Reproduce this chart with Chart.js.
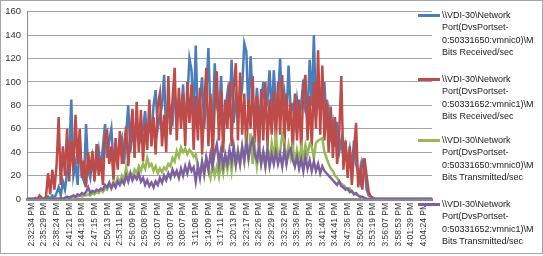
<!DOCTYPE html>
<html><head><meta charset="utf-8">
<script src="https://cdn.jsdelivr.net/npm/chart.js@4"></script>
<style>
html,body{margin:0;padding:0;background:#fff;}
#wrap{position:relative;width:543px;height:256px;overflow:hidden;background:#fff;}
#frame{position:absolute;left:0;top:0;width:541px;height:252px;border:1px solid #a6a6a6;pointer-events:none;}
canvas{position:absolute;left:0;top:0;}
.lg{position:absolute;font-family:"Liberation Sans",Arial,sans-serif;font-size:9px;line-height:12.4px;color:#1a1a1a;white-space:nowrap;}
.sw{position:absolute;height:3px;width:22px;}
</style></head>
<body><div id="wrap"><canvas id="c" width="543" height="256"></canvas><div id="frame"></div><div id="legend"></div></div>
<script>
const tickLabels = ["2:32:34 PM","2:35:29 PM","2:38:24 PM","2:41:21 PM","2:44:18 PM","2:47:15 PM","2:50:13 PM","2:53:11 PM","2:56:09 PM","2:59:08 PM","3:02:07 PM","3:05:07 PM","3:08:07 PM","3:11:08 PM","3:14:09 PM","3:17:11 PM","3:20:13 PM","3:23:17 PM","3:26:26 PM","3:29:29 PM","3:32:32 PM","3:35:36 PM","3:38:37 PM","3:41:40 PM","3:44:41 PM","3:47:36 PM","3:50:29 PM","3:53:19 PM","3:56:07 PM","3:58:53 PM","4:01:39 PM","4:04:24 PM"];
const firstTickIndex = 2;
const samplesPerTick = 6;
const sampleCount = 193;

const seriesNames = [
  "\\\\VDI-30\\Network Port(DvsPortset-0:50331650:vmnic0)\\MBits Received/sec",
  "\\\\VDI-30\\Network Port(DvsPortset-0:50331652:vmnic1)\\MBits Received/sec",
  "\\\\VDI-30\\Network Port(DvsPortset-0:50331650:vmnic0)\\MBits Transmitted/sec",
  "\\\\VDI-30\\Network Port(DvsPortset-0:50331652:vmnic1)\\MBits Transmitted/sec"
];
const legendLines = [
  ["\\\\VDI-30\\Network","Port(DvsPortset-","0:50331650:vmnic0)\\M","Bits Received/sec"],
  ["\\\\VDI-30\\Network","Port(DvsPortset-","0:50331652:vmnic1)\\M","Bits Received/sec"],
  ["\\\\VDI-30\\Network","Port(DvsPortset-","0:50331650:vmnic0)\\M","Bits Transmitted/sec"],
  ["\\\\VDI-30\\Network","Port(DvsPortset-","0:50331652:vmnic1)\\M","Bits Transmitted/sec"]
];
const colors = ["#4A7EBB","#BE4B48","#98B954","#7D60A0"];

const vmnic0Received = [
0,0,0,0,0,0,1,0,0,0,
2,0,3,1,5,10,3,15,8,22,
35,85,20,30,12,52,20,15,64,25,
18,35,20,30,42,25,45,64,35,50,
60,30,40,35,45,52,30,55,80,40,
60,45,65,55,50,60,75,50,65,55,
80,93,60,70,80,106,55,85,70,65,
90,75,80,70,98,60,85,120,110,70,
131,65,85,104,60,90,129,70,65,116,
80,70,105,60,75,90,70,119,65,85,
70,80,95,133,126,70,122,85,65,95,
70,80,100,75,85,110,70,110,80,85,
120,75,90,70,114,75,80,65,85,70,
80,102,75,70,119,80,140,70,90,75,
85,100,60,75,55,65,45,66,40,50,
35,45,30,42,25,50,30,22,15,33,
30,8,3,2,1,0,0,0,0,0,
0,0,0,0,0,0,0,0,0,0,
0,0,0,0,0,0,0,0,0,0,
0,0,0
];
const vmnic1Received = [
0,0,0,0,1,0,3,1,0,2,
22,4,25,8,28,70,12,45,20,60,
15,50,25,72,30,60,18,33,10,40,
22,41,15,47,20,35,12,55,58,30,
45,16,52,25,58,30,45,62,28,55,
77,35,83,40,76,32,65,42,85,45,
70,38,80,90,45,72,40,105,55,85,
112,50,95,60,90,45,100,65,98,42,
88,50,95,38,80,112,45,90,35,80,
109,50,92,40,85,60,100,45,95,116,
50,108,55,90,40,85,60,105,48,88,
38,94,50,100,45,85,55,92,48,100,
55,106,45,90,58,82,40,90,50,85,
42,95,106,50,88,45,100,60,127,55,
114,50,85,40,79,35,70,30,55,105,
25,50,18,45,12,40,65,10,25,8,
35,20,6,2,1,0,0,0,0,0,
0,0,0,0,0,0,0,0,0,0,
0,0,0,0,0,0,0,0,0,0,
0,0,0
];
const vmnic0Transmitted = [
0,0,0,0,0,0,0,0,0,0,
0,0,0,0,1,0,1,0,1,1,
1,2,1,2,2,3,2,3,3,4,
3,5,4,6,5,8,6,9,8,12,
10,15,12,18,14,20,16,27,18,22,
20,25,22,28,24,30,26,35,28,30,
24,28,22,26,23,27,25,30,28,35,
32,41,36,44,40,43,38,42,40,36,
38,28,22,30,20,35,25,18,30,20,
28,19,32,22,35,25,38,24,40,28,
42,30,45,32,50,35,56,30,45,28,
42,30,40,28,44,32,48,35,52,38,
40,55,48,32,46,35,44,30,42,32,
44,35,46,38,47,45,35,48,50,51,
52,40,35,30,26,24,20,18,15,13,
12,10,8,9,6,5,4,3,2,1,
0,0,0,0,0,0,0,0,0,0,
0,0,0,0,0,0,0,0,0,0,
0,0,0,0,0,0,0,0,0,0,
0,0,0
];
const vmnic1Transmitted = [
0,0,0,0,0,0,0,0,0,0,
0,0,0,0,0,0,1,0,1,2,
1,2,3,2,4,3,5,4,6,10,
5,7,6,8,7,9,8,12,10,14,
9,13,10,15,12,16,13,20,15,22,
16,20,17,22,15,18,12,16,11,14,
10,15,12,18,14,20,16,22,18,25,
20,24,18,26,20,28,22,30,24,27,
15,28,18,32,22,35,25,38,28,40,
47,30,42,28,38,30,42,32,45,30,
40,30,44,33,48,35,46,51,38,33,
44,30,40,28,42,28,38,30,40,30,
38,28,42,30,40,43,33,28,36,26,
34,24,36,26,33,24,32,24,30,22,
28,24,22,20,18,16,14,12,15,11,
10,8,9,6,7,4,5,3,2,2,
1,0,0,0,0,0,0,0,0,0,
0,0,0,0,0,0,0,0,0,0,
0,0,0,0,0,0,0,0,0,0,
0,0,0
];
const seriesData = [vmnic0Received, vmnic1Received, vmnic0Transmitted, vmnic1Transmitted];

const yMin = 0, yMax = 160, yStep = 20;

const labels = [];
for (let i = 0; i < sampleCount; i++) {
  const k = (i - firstTickIndex) / samplesPerTick;
  labels.push(Number.isInteger(k) && k >= 0 && k < tickLabels.length ? tickLabels[k] : "");
}

const FONT = '"Liberation Sans", Arial, sans-serif';
new Chart(document.getElementById('c').getContext('2d'), {
  type: 'line',
  data: {
    labels: labels,
    datasets: seriesNames.map((n, k) => ({
      label: n, data: seriesData[k], borderColor: colors[k], backgroundColor: colors[k],
      borderWidth: 2.5, pointRadius: 0, tension: 0, fill: false, order: 4 - k
    }))
  },
  options: {
    responsive: false, animation: false, events: [],
    layout: { padding: { top: 7, right: 111, left: 0, bottom: 0 } },
    plugins: { legend: { display: false }, tooltip: { enabled: false } },
    scales: {
      x: {
        grid: { display: false, drawTicks: false },
        border: { display: true, color: '#8c8c8c', width: 3 },
        ticks: { autoSkip: false, maxRotation: 90, minRotation: 90, padding: 4, color: '#333',
                 font: { family: FONT, size: 8.5 }, callback: (v, i) => labels[i] },
        afterFit: s => { s.height = 57; }
      },
      y: {
        min: yMin, max: yMax,
        ticks: { stepSize: yStep, padding: 6, color: '#333', font: { family: FONT, size: 9.5 } },
        grid: { color: '#a6a6a6', lineWidth: 1, drawTicks: false },
        border: { display: true, color: '#8c8c8c', width: 1 },
        afterFit: s => { s.width = 27; }
      }
    }
  }
});

const legendTops = [15, 79, 140, 204];
const lg = document.getElementById('legend');
legendLines.forEach((lines, k) => {
  const sw = document.createElement('div');
  sw.className = 'sw';
  sw.style.left = '418px'; sw.style.top = (legendTops[k] - 1.5) + 'px'; sw.style.background = colors[k];
  lg.appendChild(sw);
  const t = document.createElement('div');
  t.className = 'lg';
  t.style.left = '442px'; t.style.top = (legendTops[k] - 6.2) + 'px';
  t.innerHTML = lines.map(s => s.replace(/&/g,'&amp;').replace(/</g,'&lt;')).join('<br>');
  t.title = seriesNames[k];
  lg.appendChild(t);
});
</script>
</body></html>
